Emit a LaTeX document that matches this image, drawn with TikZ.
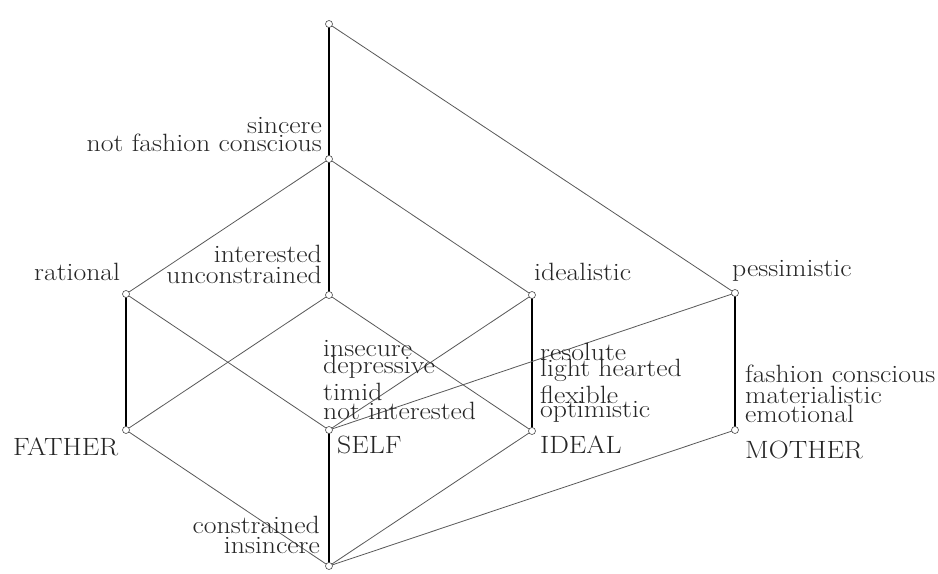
\documentclass[tikz,border=0pt]{standalone}
\newcommand{\wx}[1]{\scalebox{1.11}[1]{#1}}
\begin{document}
\begin{tikzpicture}[x=1bp,y=-1bp,
  pt/.style={circle,draw=black!70,fill=white,line width=0.6bp,inner sep=0pt,minimum size=7bp},
  thin/.style={draw=black!65,line width=0.8bp},
  mid/.style={draw=black,line width=1.3bp},
  heavy/.style={draw=black,line width=2.6bp},
  lab/.style={inner sep=0pt,font=\fontsize{25bp}{20bp}\selectfont,text=black!85}]
\useasboundingbox[fill=white] (0,0) rectangle (938,574);
% concept points
\coordinate (ctop) at (329,24);
\coordinate (csinc) at (329,159);
\coordinate (crat) at (126,294);
\coordinate (cint) at (329,295);
\coordinate (cidl) at (532,295);
\coordinate (cpes) at (735,293);
\coordinate (cfat) at (126,430);
\coordinate (cself) at (329,430);
\coordinate (cideal) at (532,431);
\coordinate (cmot) at (735,430);
\coordinate (cbot) at (329,566);
% edges
\draw[heavy] (ctop) -- (csinc);
\draw[heavy] (csinc) -- (cint);
\draw[heavy] (cself) -- (cbot);
\draw[heavy] (cpes) -- (cmot);
\draw[mid] (crat) -- (cfat);
\draw[mid] (cidl) -- (cideal);
\draw[thin] (ctop) -- (cpes);
\draw[thin] (csinc) -- (crat);
\draw[thin] (csinc) -- (cidl);
\draw[thin] (crat) -- (cself);
\draw[thin] (cint) -- (cfat);
\draw[thin] (cint) -- (cideal);
\draw[thin] (cidl) -- (cself);
\draw[thin] (cpes) -- (cself);
\draw[thin] (cfat) -- (cbot);
\draw[thin] (cideal) -- (cbot);
\draw[thin] (cmot) -- (cbot);
% nodes
\foreach \n in {ctop,csinc,crat,cint,cidl,cpes,cfat,cself,cideal,cmot,cbot}
  \node[pt] (n\n) at (\n) {};
% labels
\node[lab,anchor=base east] (l1) at (322,134) {\wx{sincere}};
\node[lab,anchor=base east] (l2) at (322,152) {\wx{not fashion conscious}};
\node[lab,anchor=base west] (l3) at (34,281) {\wx{rational}};
\node[lab,anchor=base east] (l4) at (322,263) {\wx{interested}};
\node[lab,anchor=base east] (l5) at (322,283) {\wx{unconstrained}};
\node[lab,anchor=base west] (l6) at (534,281) {\wx{idealistic}};
\node[lab,anchor=base west] (l7) at (732,277) {\wx{pessimistic}};
\node[lab,anchor=base west] (l8) at (323,356) {\wx{insecure}};
\node[lab,anchor=base west] (l9) at (323,373) {\wx{depressive}};
\node[lab,anchor=base west] (l10) at (323,400) {\wx{timid}};
\node[lab,anchor=base west] (l11) at (323,419) {\wx{not interested}};
\node[lab,anchor=base west] (l12) at (540,360) {\wx{resolute}};
\node[lab,anchor=base west] (l13) at (540,376) {\wx{light hearted}};
\node[lab,anchor=base west] (l14) at (540,403) {\wx{flexible}};
\node[lab,anchor=base west] (l15) at (540,417) {\wx{optimistic}};
\node[lab,anchor=base west] (l16) at (745,382) {\wx{fashion conscious}};
\node[lab,anchor=base west] (l17) at (745,403) {\wx{materialistic}};
\node[lab,anchor=base west] (l18) at (745,422) {\wx{emotional}};
\node[lab,anchor=base west] (l19) at (13,455) {\wx{FATHER}};
\node[lab,anchor=base west] (l20) at (337,453) {\wx{SELF}};
\node[lab,anchor=base west] (l21) at (540,453) {\wx{IDEAL}};
\node[lab,anchor=base west] (l22) at (745,458) {\wx{MOTHER}};
\node[lab,anchor=base east] (l23) at (320,533) {\wx{constrained}};
\node[lab,anchor=base east] (l24) at (320,553) {\wx{insincere}};
\end{tikzpicture}
\end{document}
